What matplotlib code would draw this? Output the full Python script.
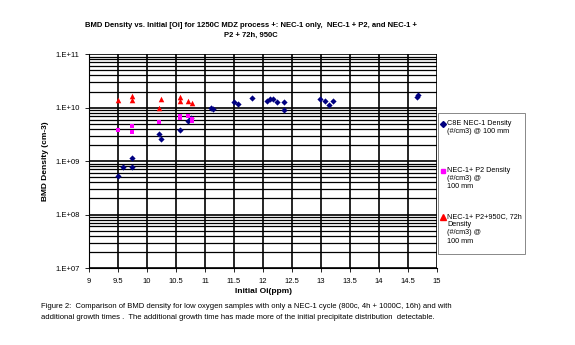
import matplotlib
matplotlib.use("Agg")
import matplotlib.pyplot as plt
from matplotlib.lines import Line2D
from matplotlib.patches import Rectangle
from matplotlib.ticker import LogLocator, NullFormatter
import numpy as np

plt.rcParams['font.family'] = ['Liberation Sans', 'DejaVu Sans']

# Data
nec1_x = [9.49, 9.59, 9.74, 9.74, 10.21, 10.24, 10.56, 10.70, 10.76, 11.10, 11.14,
          11.50, 11.57, 11.81, 12.06, 12.12, 12.18, 12.24, 12.36, 12.36,
          12.99, 13.06, 13.14, 13.20, 14.65, 14.68]
nec1_y = [5.3e8, 7.6e8, 7.6e8, 1.12e9, 3.2e9, 2.6e9, 3.8e9, 5.6e9, 6.5e9, 1.0e10, 9.6e9,
          1.3e10, 1.15e10, 1.5e10, 1.35e10, 1.43e10, 1.47e10, 1.25e10, 1.25e10, 8.9e9,
          1.42e10, 1.32e10, 1.12e10, 1.32e10, 1.58e10, 1.7e10]
p2_x = [9.49, 9.74, 9.74, 10.21, 10.56, 10.56, 10.70, 10.77, 10.77]
p2_y = [3.9e9, 4.6e9, 3.5e9, 5.4e9, 7.0e9, 6.3e9, 7.0e9, 5.6e9, 6.2e9]
p3_x = [9.49, 9.74, 9.74, 10.24, 10.21, 10.56, 10.56, 10.70, 10.77]
p3_y = [1.4e10, 1.65e10, 1.4e10, 1.45e10, 1.0e10, 1.6e10, 1.35e10, 1.35e10, 1.2e10]

x_ticks = [9, 9.5, 10, 10.5, 11, 11.5, 12, 12.5, 13, 13.5, 14, 14.5, 15]
x_tick_labels = ['9', '9.5', '10', '10.5', '11', '11.5', '12', '12.5', '13', '13.5', '14', '14.5', '15']
y_ticks = [1e7, 1e8, 1e9, 1e10, 1e11]
y_tick_labels = ['1.E+07', '1.E+08', '1.E+09', '1.E+10', '1.E+11']

title = "BMD Density vs. Initial [Oi] for 1250C MDZ process +: NEC-1 only,  NEC-1 + P2, and NEC-1 +\nP2 + 72h, 950C"
caption = ("Figure 2:  Comparison of BMD density for low oxygen samples with only a NEC-1 cycle (800c, 4h + 1000C, 16h) and with\n"
           "additional growth times .  The additional growth time has made more of the initial precipitate distribution  detectable.")
legend_labels = ["C8E NEC-1 Density\n(#/cm3) @ 100 mm",
                 "NEC-1+ P2 Density\n(#/cm3) @\n100 mm",
                 "NEC-1+ P2+950C, 72h\nDensity\n(#/cm3) @\n100 mm"]

fig = plt.figure(figsize=(5.75, 3.45), dpi=100)
ax = fig.add_axes([0.155, 0.223, 0.605, 0.62])
ax.set_yscale('log')
ax.set_xlim(9, 15)
ax.set_ylim(1e7, 1e11)

ax.yaxis.set_minor_locator(LogLocator(base=10, subs=np.arange(2, 10)))
ax.yaxis.set_minor_formatter(NullFormatter())
ax.set_yticks(y_ticks)
ax.set_yticklabels(y_tick_labels)
ax.set_xticks(x_ticks)
ax.set_xticklabels(x_tick_labels)
ax.grid(True, which='major', axis='both', color='black', lw=1.2, zorder=0)
ax.grid(True, which='minor', axis='y', color='black', lw=0.9, zorder=0)
ax.set_axisbelow(True)
ax.tick_params(axis='both', which='major', labelsize=5.5, length=3, width=0.6, direction='out', pad=4)
ax.tick_params(axis='y', which='minor', length=0)
for s in ['top', 'right']:
    ax.spines[s].set_visible(False)
ax.spines['left'].set_linewidth(0.8)
ax.spines['bottom'].set_linewidth(0.8)

ax.scatter(nec1_x, nec1_y, marker='D', s=10, color='#000080', zorder=3, linewidths=0)
ax.scatter(p2_x, p2_y, marker='s', s=12, color='#FF00FF', zorder=3, linewidths=0)
ax.scatter(p3_x, p3_y, marker='^', s=16, color='#FF0000', zorder=3, linewidths=0)

ax.set_xlabel('Initial Oi(ppm)', fontsize=6, fontweight='bold', labelpad=2)
ax.set_ylabel('BMD Density (cm-3)', fontsize=6, fontweight='bold', labelpad=4)

fig.text(0.436, 0.911, title, ha='center', va='center', fontsize=5.5, fontweight='bold', linespacing=1.55)
fig.text(0.072, 0.096, caption, ha='left', va='center', fontsize=5.5, linespacing=1.75)

# Legend box
W, H = 575.0, 345.0
fig.add_artist(Rectangle((438 / W, 1 - 254 / H), 87 / W, 141 / H, transform=fig.transFigure,
                         facecolor='white', edgecolor='#888888', lw=0.7))
markers = [('D', '#000080', 3.0), ('s', '#FF00FF', 3.4), ('^', '#FF0000', 4.0)]
ys = [124, 171, 217]
for (m, c, ms), yy, lab in zip(markers, ys, legend_labels):
    fig.add_artist(Line2D([443 / W], [1 - yy / H], marker=m, color=c, markersize=ms,
                          linestyle='none', transform=fig.transFigure))
    fig.text(447 / W, 1 - (yy - 4) / H, lab, ha='left', va='top', fontsize=5.2, linespacing=1.25)

fig.savefig('out.png', dpi=100)
